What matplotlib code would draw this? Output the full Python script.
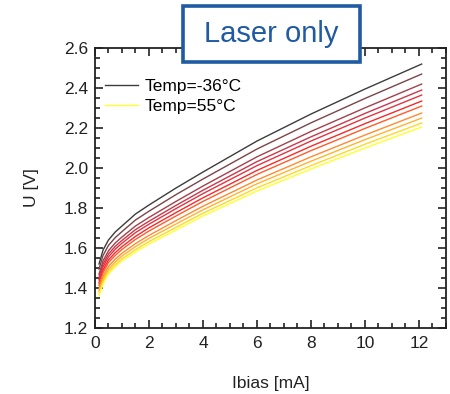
import matplotlib
matplotlib.use("Agg")
import matplotlib.pyplot as plt
from matplotlib.patches import Rectangle
from matplotlib.ticker import MultipleLocator, FormatStrFormatter

plt.rcParams['font.family'] = ['Liberation Sans', 'DejaVu Sans']

# bias current points (mA)
ibias = [0.15, 0.3, 0.5, 0.75, 1.0, 1.5, 2, 3, 4, 6, 8, 10, 12.1]

# voltage curves, coldest (-36 °C) to hottest (55 °C)
u_curves = [
    [1.520, 1.590, 1.640, 1.680, 1.710, 1.770, 1.815, 1.900, 1.980, 2.135, 2.270, 2.395, 2.520],
    [1.495, 1.563, 1.613, 1.652, 1.682, 1.740, 1.784, 1.867, 1.945, 2.095, 2.226, 2.348, 2.470],
    [1.469, 1.536, 1.586, 1.625, 1.655, 1.710, 1.753, 1.833, 1.910, 2.056, 2.183, 2.301, 2.420],
    [1.454, 1.520, 1.570, 1.608, 1.638, 1.692, 1.734, 1.813, 1.889, 2.032, 2.156, 2.273, 2.390],
    [1.441, 1.506, 1.556, 1.594, 1.624, 1.677, 1.719, 1.797, 1.872, 2.012, 2.135, 2.250, 2.365],
    [1.426, 1.490, 1.540, 1.577, 1.607, 1.658, 1.701, 1.777, 1.851, 1.988, 2.109, 2.222, 2.335],
    [1.413, 1.477, 1.527, 1.563, 1.593, 1.643, 1.685, 1.760, 1.833, 1.968, 2.087, 2.198, 2.310],
    [1.396, 1.458, 1.508, 1.544, 1.574, 1.622, 1.663, 1.737, 1.809, 1.940, 2.056, 2.165, 2.275],
    [1.383, 1.444, 1.494, 1.530, 1.560, 1.607, 1.648, 1.720, 1.791, 1.921, 2.034, 2.142, 2.250],
    [1.370, 1.431, 1.481, 1.516, 1.546, 1.592, 1.632, 1.703, 1.774, 1.901, 2.012, 2.119, 2.225],
    [1.360, 1.420, 1.470, 1.505, 1.535, 1.580, 1.620, 1.690, 1.760, 1.885, 1.995, 2.100, 2.205],
]
labels = ['Temp=-36°C'] + [None] * 9 + ['Temp=55°C']
colors = ['#3c3c3c', '#7a4448', '#a3404c', '#c8384a', '#e23440', '#f52a2a',
          '#ff5a2a', '#ff8a30', '#ffb230', '#ffd828', '#ffff30']

fig = plt.figure(figsize=(4.5, 3.94), dpi=100)
ax = fig.add_axes([0.211, 0.1675, 0.78, 0.7105])

for u, c, lab in zip(u_curves, colors, labels):
    ax.plot(ibias, u, color=c, lw=1.0, label=lab)

ax.set_xlim(0, 13)
ax.set_ylim(1.2, 2.6)
ax.xaxis.set_major_locator(MultipleLocator(2))
ax.xaxis.set_minor_locator(MultipleLocator(0.5))
ax.yaxis.set_major_locator(MultipleLocator(0.2))
ax.yaxis.set_minor_locator(MultipleLocator(0.05))
ax.yaxis.set_major_formatter(FormatStrFormatter('%.1f'))
ax.tick_params(which='both', direction='in', top=True, right=True,
               width=1.2, colors='#222222', labelsize=12.5)
ax.tick_params(which='major', length=6)
ax.tick_params(axis='x', which='major', pad=6)
ax.tick_params(axis='y', which='major', pad=5)
ax.tick_params(which='minor', length=3.5)
for s in ax.spines.values():
    s.set_linewidth(1.3)
    s.set_color('#222222')

ax.set_xlabel('Ibias [mA]', fontsize=12.5, color='#222222', labelpad=18)
ax.set_ylabel('U [V]', fontsize=12.5, color='#222222', labelpad=17.5)

ax.legend(loc='upper left', frameon=False, fontsize=12.5, handlelength=1.9,
          handletextpad=0.4, borderpad=0, borderaxespad=0, labelspacing=0.32,
          bbox_to_anchor=(0.0285, 0.891))

# title box
box = Rectangle((183 / 450, 1 - 62 / 394), 177 / 450, 56 / 394,
                transform=fig.transFigure, facecolor='white',
                edgecolor='#1f5aa3', linewidth=2.6, zorder=10)
fig.add_artist(box)
fig.text(271.5 / 450, 1 - 34 / 394, 'Laser only', ha='center', va='center',
         fontsize=21, color='#1f5aa3', zorder=11)

fig.savefig('out.png', dpi=100)
